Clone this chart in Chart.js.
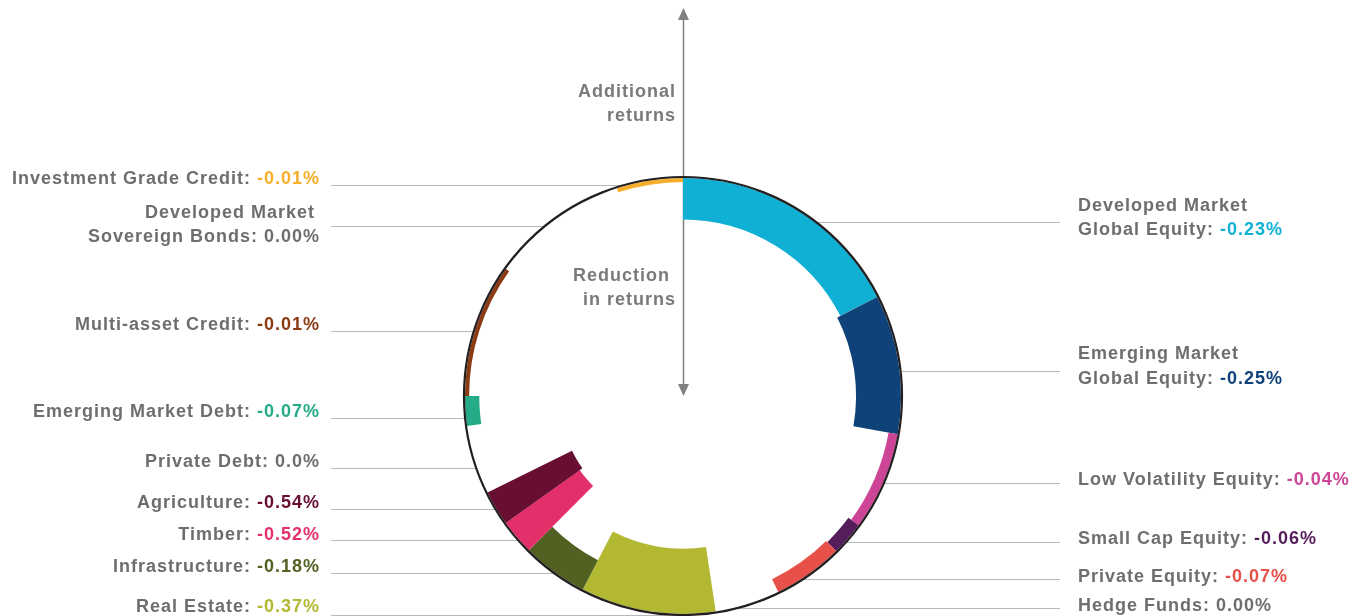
<!DOCTYPE html>
<html>
<head>
<meta charset="utf-8">
<script src="https://cdn.jsdelivr.net/npm/chart.js@4/dist/chart.umd.min.js"></script>
<style>
  html, body { margin: 0; padding: 0; background: #fff; }
  #wrap { width: 1352px; height: 616px; }
</style>
</head>
<body>
<div id="wrap"><canvas id="myChart" width="1352" height="616"></canvas></div>
<script>
    // Classes de ativos, no sentido horário a partir do topo
    const categorias = [
      "Developed Market\nGlobal Equity",
      "Emerging Market\nGlobal Equity",
      "Low Volatility Equity",
      "Small Cap Equity",
      "Private Equity",
      "Hedge Funds",
      "Real Estate",
      "Infrastructure",
      "Timber",
      "Agriculture",
      "Private Debt",
      "Emerging Market Debt",
      "Multi-asset Credit",
      "Developed Market\nSovereign Bonds",
      "Investment Grade Credit"
    ];

    // Redução nos retornos (%), medida para dentro a partir do círculo
    const reducao = [0.23, 0.25, 0.04, 0.06, 0.07, 0.00, 0.37, 0.18, 0.52, 0.54, 0.00, 0.07, 0.01, 0.00, 0.01];

    // Fatia do círculo ocupada por cada classe (% do total)
    const pesos = [17.5, 10.3, 7.3, 2.5, 5.2, 4.8, 10.0, 4.9, 2.6, 2.6, 5.1, 2.2, 9.9, 10.2, 4.9];

    // Texto dos valores, como aparece nos rótulos
    const rotulosValor = ["-0.23%", "-0.25%", "-0.04%", "-0.06%", "-0.07%", "0.00%", "-0.37%", "-0.18%",
      "-0.52%", "-0.54%", "0.0%", "-0.07%", "-0.01%", "0.00%", "-0.01%"];

    const cores = ["#10b0d4", "#0f4278", "#cc4597", "#561d5c", "#e8504a", "#6e6e6e", "#b3b833", "#526022",
      "#e3306b", "#690e33", "#6e6e6e", "#25ab88", "#8b3a12", "#6e6e6e", "#f7ae2b"];

    // Posição dos rótulos (lado, linhas de texto, linha guia)
    const posRotulos = [
      { lado: "d", linhas: [206, 230], guia: 222 },
      { lado: "d", linhas: [354, 379], guia: 371 },
      { lado: "d", linhas: [480], guia: 483 },
      { lado: "d", linhas: [539], guia: 542 },
      { lado: "d", linhas: [577], guia: 579 },
      { lado: "d", linhas: [606], guia: 608 },
      { lado: "e", linhas: [607], guia: 615 },
      { lado: "e", linhas: [567], guia: 573 },
      { lado: "e", linhas: [535], guia: 540 },
      { lado: "e", linhas: [503], guia: 509 },
      { lado: "e", linhas: [462], guia: 468 },
      { lado: "e", linhas: [412], guia: 418 },
      { lado: "e", linhas: [325], guia: 331 },
      { lado: "e", linhas: [213, 237], guia: 226 },
      { lado: "e", linhas: [179], guia: 185 }
    ];

    const FONTE = 'bold 18px "Liberation Sans", Arial, sans-serif';
    const CINZA = "#6e6e6e";

    // Controlador polar em anel: cada barra vai do círculo externo para dentro
    class AnelController extends Chart.PolarAreaController {
      updateElements(arcs, start, count, mode) {
        super.updateElements(arcs, start, count, mode);
        const scale = this._cachedMeta.rScale;
        const externo = scale.getDistanceFromCenterForValue(scale.min) - 1;
        for (let i = start; i < start + count; i++) {
          arcs[i].innerRadius = arcs[i].outerRadius;
          arcs[i].outerRadius = externo;
        }
      }
    }
    AnelController.id = "anel";
    Chart.register(AnelController);

    function textoEspacado(c) {
      c.font = FONTE;
      c.letterSpacing = "1px";
    }

    // Função para desenhar rótulos, linhas guia, círculo e seta
    const extras = {
      id: "extras",
      beforeDatasetsDraw(chart) {
        const c = chart.ctx;
        const s = chart.scales.r;
        const R = s.getDistanceFromCenterForValue(s.min);
        const cx = s.xCenter + 0.5;
        c.save();
        c.strokeStyle = "#b8b8b8";
        c.lineWidth = 1;
        posRotulos.forEach(function(p) {
          const dy = p.guia - s.yCenter;
          const dx = Math.sqrt(Math.max(R * R - dy * dy, 0));
          c.beginPath();
          if (p.lado === "e") {
            c.moveTo(331, p.guia + 0.5);
            c.lineTo(s.xCenter - dx, p.guia + 0.5);
          } else {
            c.moveTo(s.xCenter + dx, p.guia + 0.5);
            c.lineTo(1060, p.guia + 0.5);
          }
          c.stroke();
        });

        // Seta vertical
        c.strokeStyle = "#808080";
        c.fillStyle = "#808080";
        c.lineWidth = 1.5;
        c.beginPath();
        c.moveTo(cx, 16);
        c.lineTo(cx, s.yCenter - 8);
        c.stroke();
        c.beginPath();
        c.moveTo(cx, 8);
        c.lineTo(cx - 5.5, 20);
        c.lineTo(cx + 5.5, 20);
        c.closePath();
        c.fill();
        c.beginPath();
        c.moveTo(cx, s.yCenter);
        c.lineTo(cx - 5.5, s.yCenter - 12);
        c.lineTo(cx + 5.5, s.yCenter - 12);
        c.closePath();
        c.fill();
        c.restore();
      },
      afterDatasetsDraw(chart) {
        const c = chart.ctx;
        const s = chart.scales.r;
        const R = s.getDistanceFromCenterForValue(s.min);
        c.save();

        // Círculo externo
        c.strokeStyle = "#231f20";
        c.lineWidth = 2.2;
        c.beginPath();
        c.arc(s.xCenter, s.yCenter, R, 0, Math.PI * 2);
        c.stroke();

        // Textos da seta
        textoEspacado(c);
        c.fillStyle = "#7a7a7a";
        c.textBaseline = "middle";
        c.textAlign = "right";
        c.fillText("Additional", 676, 92);
        c.fillText("returns", 676, 116);
        c.fillText("Reduction", 670, 276);
        c.fillText("in returns", 676, 300);

        // Rótulos das classes
        categorias.forEach(function(nome, i) {
          const p = posRotulos[i];
          const linhas = nome.split("\n");
          const valor = rotulosValor[i];
          const wv = c.measureText(valor).width;
          linhas.forEach(function(txt, k) {
            const y = p.linhas[k];
            const ultima = k === linhas.length - 1;
            if (p.lado === "e") {
              c.textAlign = "right";
              if (ultima) {
                c.fillStyle = cores[i];
                c.fillText(valor, 320, y);
                c.fillStyle = CINZA;
                c.fillText(txt + ": ", 320 - wv, y);
              } else {
                c.fillStyle = CINZA;
                c.fillText(txt, 315, y);
              }
            } else {
              c.textAlign = "left";
              c.fillStyle = CINZA;
              if (ultima) {
                const t = txt + ": ";
                c.fillText(t, 1078, y);
                c.fillStyle = cores[i];
                c.fillText(valor, 1078 + c.measureText(t).width, y);
              } else {
                c.fillText(txt, 1078, y);
              }
            }
          });
        });
        c.restore();
      }
    };

    // Criar o gráfico em anel (escala invertida: redução medida para dentro)
    const ctx = document.getElementById("myChart").getContext("2d");
    new Chart(ctx, {
      type: "anel",
      data: {
        labels: categorias,
        datasets: [{
          label: "Reduction in returns",
          data: reducao,
          backgroundColor: (c) => reducao[c.dataIndex] > 0 ? cores[c.dataIndex] : "rgba(0,0,0,0)",
          borderWidth: 0,
          angle: (c) => pesos[c.dataIndex] * 3.6
        }]
      },
      options: {
        responsive: false,
        animation: false,
        events: [],
        layout: { padding: { top: 177, bottom: 1, left: 404, right: 389 } },
        plugins: { legend: { display: false }, tooltip: { enabled: false } },
        scales: {
          r: {
            type: "radialLinear",
            reverse: true,
            min: -0.02,
            max: 1.268,
            startAngle: 0,
            ticks: { display: false },
            grid: { display: false },
            angleLines: { display: false },
            pointLabels: { display: false }
          }
        }
      },
      plugins: [extras]
    });
</script>
</body>
</html>
